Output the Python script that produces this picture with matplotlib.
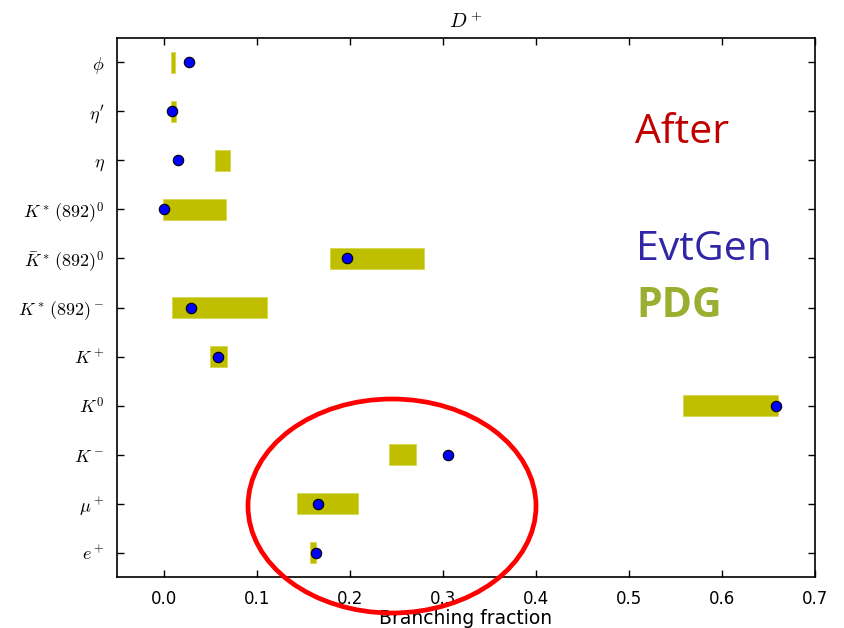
import matplotlib
matplotlib.use("Agg")
import matplotlib.pyplot as plt
from matplotlib.patches import Ellipse

# categories listed bottom to top
labels = [r'$e^+$', r'$\mu^+$', r'$K^-$', r'$K^0$', r'$K^+$',
          r'$K^*\,(892)^-$', r'$\bar{K}^*\,(892)^0$', r'$K^*\,(892)^0$',
          r'$\eta$', r"$\eta^\prime$", r'$\phi$']

# PDG ranges (low, high)
pdg_lo = [0.157, 0.143, 0.242, 0.558, 0.050, 0.009, 0.179, -0.001, 0.055, 0.008, 0.008]
pdg_hi = [0.164, 0.209, 0.271, 0.660, 0.068, 0.111, 0.280, 0.067, 0.071, 0.013, 0.012]

# EvtGen values
evtgen = [0.164, 0.166, 0.306, 0.658, 0.059, 0.029, 0.197, 0.001, 0.016, 0.009, 0.027]

plt.rcParams['mathtext.fontset'] = 'cm'
plt.rcParams['font.size'] = 12

fig = plt.figure(figsize=(8.45, 6.28), dpi=100)
ax = fig.add_axes([0.1385, 0.0812, 0.826, 0.8583])

ypos = list(range(len(labels)))
widths = [h - l for l, h in zip(pdg_lo, pdg_hi)]
ax.barh(ypos, widths, left=pdg_lo, height=0.42, color='#bfbf00',
        edgecolor='#d6d650', linewidth=0.6, align='center', zorder=2)
ax.plot(evtgen, ypos, 'o', color='blue', markeredgecolor='black',
        markeredgewidth=0.8, markersize=7.5, zorder=3)

ax.set_xlim(-0.05, 0.7)
ax.set_ylim(-0.5, len(labels) - 0.5)
ax.set_yticks(ypos)
ax.set_yticklabels(labels, fontsize=13)
ax.set_xticks([0.0, 0.1, 0.2, 0.3, 0.4, 0.5, 0.6, 0.7])
ax.tick_params(direction='in', top=True, right=True, length=5, width=1, pad=9)
for s in ax.spines.values():
    s.set_linewidth(1.2)
ax.set_xlabel('Branching fraction', fontsize=13.5, labelpad=1)
ax.set_title(r'$D^+$', fontsize=14.5, pad=7)

# overlay annotations
fig.text(635 / 845, 1 - 143 / 628, 'After', color='#c00000',
         fontsize=29.5, family='Open Sans', va='baseline')
fig.text(636 / 845, 1 - 260 / 628, 'EvtGen', color='#3126a5',
         fontsize=29.5, family='Open Sans', va='baseline')
fig.text(636 / 845, 1 - 317 / 628, 'PDG', color='#9aae30',
         fontsize=29.5, family='Open Sans', fontweight='bold', va='baseline')

fig.add_artist(Ellipse((392 / 845, 1 - 506 / 628), 288 / 845, 214 / 628,
                       transform=fig.transFigure, fill=False,
                       edgecolor='red', linewidth=3.4, zorder=10))

fig.savefig('out.png', dpi=100)
